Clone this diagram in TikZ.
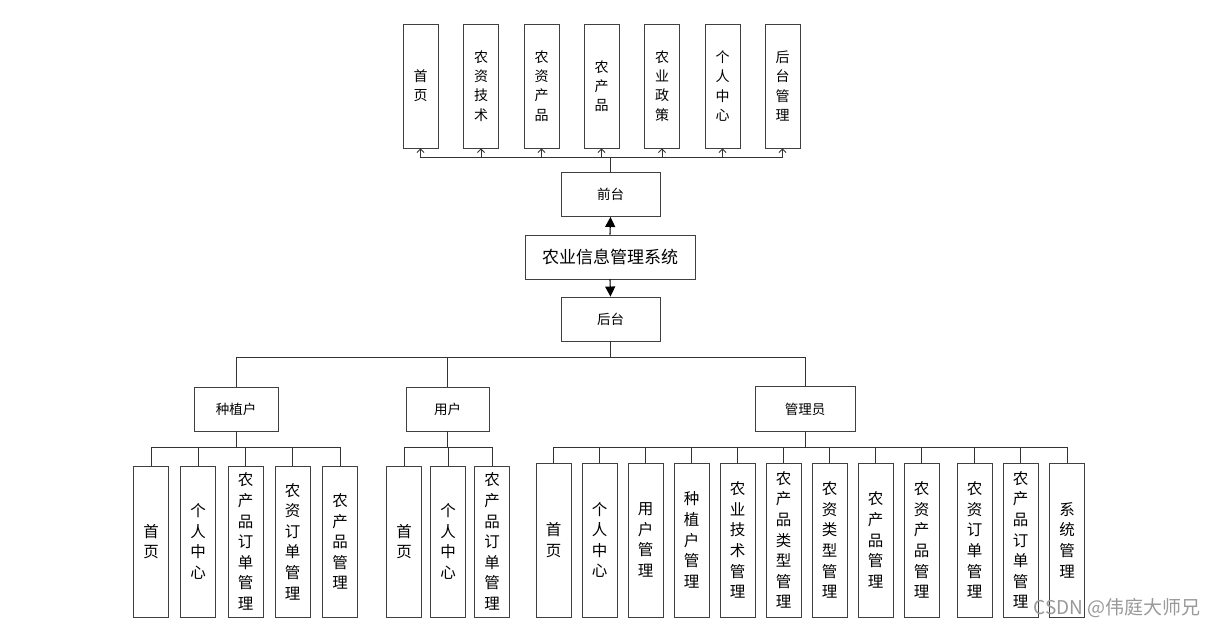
\documentclass[tikz,border=0pt]{standalone}
\usepackage{fontspec}
\setmainfont{Noto Sans CJK SC}
\usetikzlibrary{arrows.meta}

\begin{document}
\begin{tikzpicture}[x=1pt,y=-1pt,
    box/.style={draw=black!75,line width=0.9pt,inner sep=0pt,align=center},
    topbox/.style={box,minimum width=35pt,minimum height=124pt,font=\fontsize{14}{19.3}\selectfont},
    leaf/.style={box,minimum width=35pt,minimum height=151pt,font=\fontsize{15.5}{20.6}\selectfont},
    midbox/.style={box,minimum height=44pt,font=\fontsize{13.5}{16}\selectfont},
    link/.style={draw=black!80,line width=0.8pt},
    openarrow/.style={link,-{Straight Barb[length=3.5pt,width=7pt]}},
    mainarrow/.style={draw=black,line width=1.1pt,-{Triangle[length=10pt,width=10pt]}}]
  \useasboundingbox (0,0) rectangle (1217,627);
  % top level
  \node[box,minimum width=170pt,minimum height=44pt,font=\fontsize{17}{20}\selectfont]
    (sys) at (610,257) {农业信息管理系统};
  \node[midbox,minimum width=99pt] (front) at (610.5,194.5) {前台};
  \node[midbox,minimum width=99pt] (back) at (610.5,319) {后台};
  \draw[mainarrow] (sys.north) -- (front.south);
  \draw[mainarrow] (sys.south) -- (back.north);
  % front pages
  \foreach \t/\x [count=\i] in {首\\页/420.5, 农\\资\\技\\术/481, 农\\资\\产\\品/541.5,
      农\\产\\品/601.5, 农\\业\\政\\策/662, 个\\人\\中\\心/722.5, 后\\台\\管\\理/782.5}
    \node[topbox] (f\i) at (\x,86) {\t};
  \foreach \i in {1,...,7}
    \draw[openarrow] (front.north) -- ++(0,-15) -| (f\i.south);
  % roles
  \node[midbox,minimum width=84pt] (zz) at (236,409) {种植户};
  \node[midbox,minimum width=83pt] (yh) at (447.5,409) {用户};
  \node[midbox,minimum width=100pt,minimum height=45pt] (gl) at (805,409) {管理员};
  \foreach \r in {zz,yh,gl}
    \draw[link] (back.south) -- ++(0,16) -| (\r.north);
  % planter
  \foreach \t/\x [count=\i] in {首\\页/151, 个\\人\\中\\心/198, 农\\产\\品\\订\\单\\管\\理/245.5,
      农\\资\\订\\单\\管\\理/292.5, 农\\产\\品\\管\\理/340}
    \node[leaf] (z\i) at (\x,541.5) {\t};
  \foreach \i in {1,...,5}
    \draw[link] (zz.south) -- ++(0,16) -| (z\i.north);
  % user
  \foreach \t/\x [count=\i] in {首\\页/404, 个\\人\\中\\心/448, 农\\产\\品\\订\\单\\管\\理/492}
    \node[leaf] (u\i) at (\x,541.5) {\t};
  \foreach \i in {1,...,3}
    \draw[link] (yh.south) -- ++(0,16) -| (u\i.north);
  % admin
  \foreach \t/\x [count=\i] in {首\\页/553.5, 个\\人\\中\\心/599.5, 用\\户\\管\\理/645.5,
      种\\植\\户\\管\\理/691.5, 农\\业\\技\\术\\管\\理/737.5, 农\\产\\品\\类\\型\\管\\理/783.5,
      农\\资\\类\\型\\管\\理/829.5, 农\\产\\品\\管\\理/875.5, 农\\资\\产\\品\\管\\理/921.5,
      农\\资\\订\\单\\管\\理/974.5, 农\\产\\品\\订\\单\\管\\理/1020.5, 系\\统\\管\\理/1067}
    \node[leaf,minimum height=154pt] (g\i) at (\x,540) {\t};
  \foreach \i in {1,...,12}
    \draw[link] (gl.south) -- ++(0,15) -| (g\i.north);
  \node[text=black!40,font=\fontsize{19}{21}\selectfont,anchor=east] (mark) at (1204,608) {CSDN @伟庭大师兄};
\end{tikzpicture}
\end{document}
